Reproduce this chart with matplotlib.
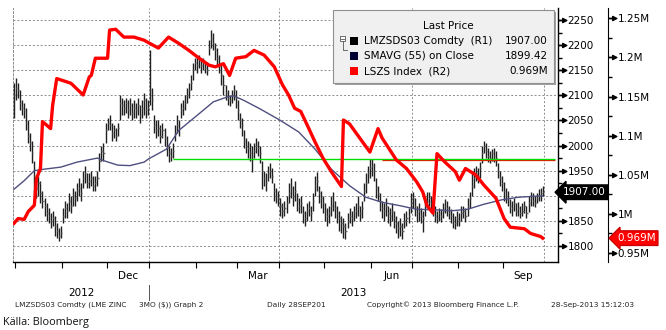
import numpy as np
import pandas as pd
import matplotlib
matplotlib.use('Agg')
from matplotlib import pyplot as plt
from matplotlib.path import Path
from matplotlib.patches import Rectangle
import matplotlib.transforms as mtransforms

# trading days shown on the chart
dates = pd.bdate_range('2012-09-28', '2013-09-27')

# LMZSDS03 Comdty daily bars
closes = [2100, 2115, 2110, 2085, 2075, 2070, 2045, 2020, 2005, 1985, 1940, 1915, 1925, 1905, 1890, 1880, 1865,
          1860, 1850, 1855, 1840, 1830, 1820, 1825, 1860, 1875, 1870, 1890, 1880, 1900, 1895, 1910, 1915, 1905,
          1935, 1945, 1925, 1930, 1935, 1920, 1925, 1935, 1970, 1990, 1985, 2030, 2045, 2040, 2025, 2030, 2020,
          2035, 2085, 2080, 2075, 2085, 2070, 2080, 2065, 2075, 2070, 2080, 2060, 2075, 2090, 2070, 2075,
          2110, 2090, 2040, 2030, 2035, 2020, 2030, 2015, 1995, 1985, 1980, 1990, 2025, 2040, 2035, 2070, 2075,
          2085, 2100, 2110, 2125, 2150, 2165, 2160, 2170, 2160, 2165, 2155, 2150, 2195, 2215, 2205, 2190, 2175,
          2160, 2140, 2120, 2105, 2095, 2090, 2100, 2110, 2095, 2070, 2050, 2040, 2010, 2000, 1995, 1985, 1980,
          1990, 2000, 1995, 1985, 1950, 1935, 1925, 1945, 1950, 1940, 1910, 1900, 1895, 1880, 1870, 1875,
          1885, 1905, 1915, 1900, 1910, 1890, 1880, 1885, 1865, 1855, 1870, 1875, 1865, 1890, 1920, 1930, 1905,
          1895, 1885, 1870, 1860, 1865, 1880, 1890, 1875, 1865, 1855, 1845, 1840, 1830, 1850, 1860, 1855, 1865,
          1870, 1880, 1865, 1875, 1910, 1925, 1945, 1955, 1960, 1950, 1915, 1905, 1890, 1875, 1870, 1880, 1865,
          1860, 1870, 1855, 1845, 1835, 1840, 1830, 1850, 1855, 1860, 1885, 1895, 1880, 1865, 1870, 1860,
          1855, 1880, 1890, 1895, 1885, 1875, 1860, 1855, 1865, 1860, 1870, 1880, 1875, 1865, 1860, 1850, 1845,
          1855, 1850, 1865, 1870, 1860, 1880, 1895, 1920, 1935, 1945, 1940, 1955, 1985, 2000, 1990, 1980, 1975,
          1985, 1980, 1975, 1950, 1935, 1925, 1910, 1900, 1895, 1880, 1875, 1885, 1870, 1875, 1865, 1870, 1880,
          1865, 1885, 1895, 1890, 1885, 1895, 1900, 1905, 1907]
highs = [2125, 2135, 2125, 2110, 2090, 2085, 2075, 2050, 2025, 2010, 1970, 1935, 1940, 1930, 1910, 1895, 1885,
         1875, 1865, 1870, 1860, 1845, 1835, 1840, 1875, 1890, 1885, 1905, 1900, 1915, 1910, 1925, 1935, 1925,
         1950, 1960, 1945, 1945, 1950, 1940, 1940, 1950, 1985, 2000, 2005, 2045, 2055, 2060, 2045, 2040, 2035,
         2045, 2100, 2095, 2090, 2095, 2090, 2095, 2085, 2090, 2085, 2095, 2080, 2090, 2105, 2095, 2090,
         2190, 2115, 2060, 2050, 2050, 2040, 2045, 2035, 2020, 2000, 1995, 2005, 2040, 2060, 2050, 2085, 2090,
         2100, 2115, 2125, 2140, 2165, 2175, 2180, 2180, 2175, 2175, 2165, 2160, 2210, 2230, 2225, 2205, 2195,
         2180, 2160, 2140, 2120, 2110, 2100, 2110, 2120, 2110, 2090, 2065, 2055, 2030, 2015, 2010, 2005, 2000,
         2005, 2015, 2010, 2000, 1970, 1950, 1945, 1960, 1965, 1955, 1925, 1915, 1910, 1895, 1885, 1890,
         1900, 1925, 1935, 1920, 1930, 1905, 1895, 1900, 1880, 1870, 1885, 1890, 1880, 1905, 1940, 1947, 1920,
         1910, 1900, 1885, 1875, 1880, 1900, 1907, 1890, 1880, 1870, 1860, 1855, 1845, 1865, 1875, 1870, 1880,
         1885, 1900, 1880, 1890, 1925, 1945, 1960, 1973, 1973, 1965, 1935, 1920, 1905, 1890, 1885, 1895, 1880,
         1875, 1885, 1870, 1860, 1850, 1855, 1845, 1865, 1870, 1875, 1905, 1907, 1895, 1880, 1885, 1875,
         1870, 1900, 1907, 1907, 1900, 1890, 1880, 1870, 1875, 1873, 1885, 1893, 1890, 1880, 1873, 1865, 1860,
         1870, 1865, 1880, 1880, 1875, 1895, 1907, 1945, 1955, 1960, 1955, 1967, 2000, 2010, 2005, 1995, 1990,
         1993, 1995, 1990, 1965, 1950, 1940, 1927, 1915, 1910, 1893, 1890, 1895, 1885, 1887, 1880, 1885, 1890,
         1880, 1900, 1907, 1905, 1900, 1905, 1913, 1915, 1920]
lows = [2055, 2090, 2095, 2070, 2060, 2055, 2030, 2005, 1990, 1965, 1905, 1895, 1900, 1885, 1875, 1860, 1850,
        1845, 1835, 1840, 1820, 1815, 1810, 1815, 1845, 1855, 1855, 1870, 1865, 1880, 1880, 1890, 1900, 1890,
        1915, 1925, 1915, 1915, 1920, 1910, 1910, 1920, 1950, 1970, 1970, 2005, 2030, 2030, 2010, 2015, 2010,
        2020, 2050, 2060, 2060, 2065, 2055, 2060, 2050, 2055, 2055, 2060, 2045, 2055, 2060, 2055, 2060,
        2080, 2070, 2025, 2015, 2020, 2005, 2015, 2000, 1980, 1968, 1970, 1975, 2010, 2025, 2020, 2055, 2060,
        2070, 2085, 2095, 2110, 2130, 2150, 2145, 2155, 2145, 2150, 2145, 2140, 2180, 2195, 2190, 2170, 2160,
        2145, 2120, 2100, 2090, 2080, 2078, 2085, 2090, 2075, 2050, 2035, 2020, 1995, 1985, 1975, 1970, 1947,
        1975, 1985, 1980, 1965, 1913, 1920, 1910, 1930, 1935, 1925, 1890, 1885, 1880, 1860, 1855, 1860,
        1865, 1885, 1895, 1880, 1890, 1870, 1865, 1865, 1845, 1840, 1850, 1860, 1850, 1870, 1900, 1910, 1885,
        1875, 1865, 1850, 1840, 1845, 1860, 1870, 1855, 1845, 1830, 1825, 1815, 1813, 1835, 1845, 1840, 1850,
        1855, 1860, 1850, 1855, 1890, 1905, 1925, 1935, 1940, 1930, 1895, 1890, 1870, 1855, 1850, 1860, 1845,
        1840, 1850, 1835, 1825, 1815, 1820, 1813, 1835, 1840, 1845, 1865, 1875, 1860, 1848, 1850, 1845,
        1827, 1860, 1875, 1880, 1870, 1860, 1847, 1845, 1850, 1847, 1855, 1865, 1860, 1853, 1845, 1835, 1833,
        1840, 1840, 1850, 1855, 1847, 1860, 1875, 1900, 1915, 1930, 1925, 1935, 1965, 1985, 1975, 1967, 1965,
        1970, 1967, 1960, 1935, 1920, 1910, 1890, 1885, 1880, 1865, 1860, 1870, 1860, 1860, 1855, 1860, 1865,
        1855, 1867, 1880, 1880, 1878, 1885, 1890, 1890, 1900]

# SMAVG (55) on close
sma_idx = [0, 5, 10, 15, 23, 31, 41, 44, 51, 57, 64, 66, 75, 81, 90, 98, 105, 108, 113, 121, 131, 140, 148,
           156, 165, 173, 181, 190, 198, 207, 215, 223, 231, 240, 248, 256, 260]
sma_val = [1913, 1930, 1950, 1953, 1957, 1967, 1975, 1970, 1961, 1960, 1967, 1973, 1993, 2030, 2060, 2087,
           2097, 2099, 2090, 2073, 2050, 2027, 1993, 1953, 1920, 1897, 1887, 1880, 1873, 1872, 1870, 1873,
           1883, 1892, 1897, 1899, 1899.42]

# LSZS Index (R2), in millions
stock_idx = [0, 2, 5, 7, 10, 11, 13, 14, 18, 19, 21, 28, 34, 37, 38, 40, 46, 47, 50, 54, 59, 64, 66, 71, 76,
             81, 86, 91, 96, 99, 103, 106, 109, 114, 118, 123, 128, 132, 135, 138, 141, 145, 148, 152, 156,
             161, 162, 165, 170, 175, 179, 181, 188, 193, 198, 201, 203, 206, 208, 212, 217, 219, 222, 227,
             231, 237, 241, 244, 251, 254, 259, 260]
stock_val = [0.988, 0.994, 0.993, 1.003, 1.011, 1.045, 1.058, 1.118, 1.109, 1.139, 1.173, 1.167, 1.152, 1.175,
             1.177, 1.199, 1.199, 1.235, 1.236, 1.226, 1.226, 1.222, 1.219, 1.212, 1.226, 1.218, 1.209, 1.199,
             1.190, 1.188, 1.192, 1.177, 1.199, 1.201, 1.209, 1.203, 1.188, 1.165, 1.152, 1.135, 1.131, 1.109,
             1.092, 1.071, 1.054, 1.035, 1.120, 1.115, 1.097, 1.079, 1.109, 1.097, 1.069, 1.058, 1.041, 1.028,
             1.011, 1.001, 1.077, 1.066, 1.054, 1.043, 1.058, 1.050, 1.037, 1.020, 0.994, 0.983, 0.981, 0.975,
             0.971, 0.969]

# horizontal trend line
trend_level = 1973
trend_start = pd.Timestamp('2013-01-16')
trend_red_start = pd.Timestamp('2013-06-10')

price_ticks = [1800, 1850, 1900, 1950, 2000, 2050, 2100, 2150, 2200, 2250]
stock_ticks = [0.95, 1.0, 1.05, 1.1, 1.15, 1.2, 1.25]
stock_labels = ['0.95M', '1M', '1.05M', '1.1M', '1.15M', '1.2M', '1.25M']
month_labels = ['Dec', 'Mar', 'Jun', 'Sep']
legend_names = ['LMZSDS03 Comdty  (R1)', 'SMAVG (55) on Close', 'LSZS Index  (R2)']
legend_values = ['1907.00', '1899.42', '0.969M']
legend_colors = ['#000000', '#000033', '#ff0000']
footer = [('LMZSDS03 Comdty (LME ZINC', 15), ('3MO ($)) Graph 2', 139), ('Daily 28SEP201', 267),
          ('Copyright\u00a9 2013 Bloomberg Finance L.P.', 367), ('28-Sep-2013 15:12:03', 551)]

W, H = 666, 330


def fx(px):
    return px / W


def fy(py):
    return 1 - py / H


def tick_arrow():
    verts = [(0, 0), (0.5, 0), (0.5, -0.25), (1, 0), (0.5, 0.25), (0.5, 0), (0, 0)]
    return Path(verts)


plt.rcParams['font.family'] = 'DejaVu Sans'
fig = plt.figure(figsize=(W / 100, H / 100), dpi=100)
fig.patch.set_facecolor('white')

ax = fig.add_axes([fx(13), fy(262), (558 - 13) / W, (262 - 8) / H])
ax2 = ax.twinx()

x = np.arange(len(dates))
n = len(dates)

# price bars
ax.vlines(x, lows, highs, color='#202020', lw=1.0, zorder=3)
ax.hlines(closes, x, x + 0.55, color='#6a6a6a', lw=1.0, zorder=3)
ax.plot(sma_idx, sma_val, color='#4f4f80', lw=1.0, zorder=4)

i_trend = dates.get_indexer([trend_start], method='nearest')[0]
i_red = dates.get_indexer([trend_red_start], method='nearest')[0]
ax.hlines(trend_level - 2.2, i_red, 266, color='#ff0000', lw=0.9, zorder=5)
ax.hlines(trend_level, i_trend, 266, color='#00dd00', lw=1.0, zorder=5)

ax.set_xlim(-0.5, 267.5)
ax.set_ylim(1768, 2274)

# grid
ax.set_yticks(price_ticks)
ax.set_yticklabels(['' if p == 1900 else str(p) for p in price_ticks])
ax.set_yticks([p + 25 for p in price_ticks[:-1]], minor=True)
ax.grid(axis='y', which='major', linestyle=(0, (2, 2)), color='#8c8c8c', lw=0.7)

month_start = [i for i in range(1, n) if dates[i].month != dates[i - 1].month]
quarter_start = [i for i in month_start if dates[i].month in (1, 4, 7)] + [n]
for q in quarter_start:
    ax.axvline(q - 0.5, color='#8c8c8c', lw=0.7, linestyle=(0, (2, 2)), zorder=1)

ax.yaxis.tick_right()
ax.tick_params(axis='y', which='major', length=6, width=1, labelsize=7.5, pad=1)
ax.tick_params(axis='y', which='minor', length=3, width=1)
for t in ax.yaxis.get_major_ticks():
    t.tick2line.set_marker(tick_arrow())
    t.tick2line.set_markersize(12)

ax.set_xticks([m - 0.5 for m in month_start])
ax.set_xticklabels([])
ax.tick_params(axis='x', length=4, width=0.8, direction='out')

ax.spines['top'].set_visible(False)
ax.spines['left'].set_linestyle((0, (2, 2)))
ax.spines['left'].set_color('#8c8c8c')
ax.spines['left'].set_linewidth(0.7)
ax.spines['right'].set_linewidth(1.0)
ax.spines['bottom'].set_linewidth(1.0)

# month and year labels
bounds = [0] + month_start + [n]
xtr = ax.get_xaxis_transform()
for k in range(len(bounds) - 1):
    name = dates[bounds[k]].strftime('%b')
    if name in month_labels and bounds[k + 1] - bounds[k] > 5:
        ax.text((bounds[k] + bounds[k + 1] - 1) / 2, -0.055, name, transform=xtr,
                ha='center', va='center', fontsize=7.5)
jan = quarter_start[0]
ax.text((jan - 0.5 - 0.5) / 2, -0.122, '2012', transform=xtr, ha='center', va='center', fontsize=7.5)
ax.text((jan - 0.5 + 267.5) / 2, -0.122, '2013', transform=xtr, ha='center', va='center', fontsize=7.5)
ax.plot([jan - 0.5, jan - 0.5], [-0.09, -0.15], transform=xtr, color='#555555', lw=0.7, clip_on=False)

# stocks on second axis
ax2.plot(stock_idx, stock_val, color='#ff0000', lw=2.4, solid_joinstyle='round', zorder=4)
ax2.set_ylim(0.9385, 1.2632)
ax2.set_yticks(stock_ticks)
ax2.set_yticklabels(stock_labels)
ax2.set_yticks([s + 0.025 for s in stock_ticks[:-1]], minor=True)
ax2.spines['right'].set_position(('outward', 36))
for s in ['top', 'left', 'bottom']:
    ax2.spines[s].set_visible(False)
ax2.tick_params(axis='y', which='major', length=6, width=1, labelsize=7.5, pad=1)
ax2.tick_params(axis='y', which='minor', length=3, width=1)
for t in ax2.yaxis.get_major_ticks():
    t.tick2line.set_marker(tick_arrow())
    t.tick2line.set_markersize(12)

# last value tags
tr = mtransforms.blended_transform_factory(ax.transAxes, ax.transData)
ax.text((563 - 13) / 545, closes[-1], '1907.00', transform=tr, ha='left', va='center', color='white',
        fontsize=7.5, zorder=10, clip_on=False,
        bbox=dict(boxstyle='larrow,pad=0.22', fc='black', ec='black'))
tr2 = mtransforms.blended_transform_factory(ax2.transAxes, ax2.transData)
ax2.text((617 - 13) / 545, stock_val[-1], '0.969M', transform=tr2, ha='left', va='center', color='white',
         fontsize=7.5, zorder=10, clip_on=False,
         bbox=dict(boxstyle='larrow,pad=0.22', fc='#ff0000', ec='#cc0000'))

# legend box
fig.patches.append(Rectangle((fx(335), fy(85)), (556 - 335) / W, (85 - 12) / H, transform=fig.transFigure,
                             fc='#a0a0a0', ec='none', zorder=5))
fig.patches.append(Rectangle((fx(333), fy(83)), (554 - 333) / W, (83 - 10) / H, transform=fig.transFigure,
                             fc='#f0f0f0', ec='#909090', lw=0.8, zorder=6))
fig.text(fx(448), fy(26), 'Last Price', ha='center', va='center', fontsize=7.5, zorder=7)
rows_y = [41, 56, 71]
for name, val, col, yy in zip(legend_names, legend_values, legend_colors, rows_y):
    fig.patches.append(Rectangle((fx(350), fy(yy + 4)), 8 / W, 8 / H, transform=fig.transFigure,
                                 fc=col, ec='none', zorder=7))
    fig.text(fx(364), fy(yy), name, ha='left', va='center', fontsize=7.5, zorder=7)
    fig.text(fx(548), fy(yy), val, ha='right', va='center', fontsize=7.5, zorder=7)
# small tree toggle
fig.patches.append(Rectangle((fx(340), fy(41)), 5 / W, 5 / H, transform=fig.transFigure,
                             fc='white', ec='#555555', lw=0.6, zorder=7))
fig.lines.append(plt.Line2D([fx(341), fx(344)], [fy(38.5), fy(38.5)], transform=fig.transFigure,
                            color='#555555', lw=0.6, zorder=8))
fig.lines.append(plt.Line2D([fx(342.5), fx(342.5), fx(347)], [fy(41), fy(50), fy(50)],
                            transform=fig.transFigure, color='#555555', lw=0.6, zorder=8))

# footer
for txt, px in footer:
    fig.text(fx(px), fy(305), txt, ha='left', va='center', fontsize=5.3, color='#222222')
fig.text(fx(3), fy(322), 'K\u00e4lla: Bloomberg', ha='left', va='center', fontsize=7.8,
         family='Open Sans', color='#111111')

fig.savefig('out.png', dpi=100, facecolor='white')
